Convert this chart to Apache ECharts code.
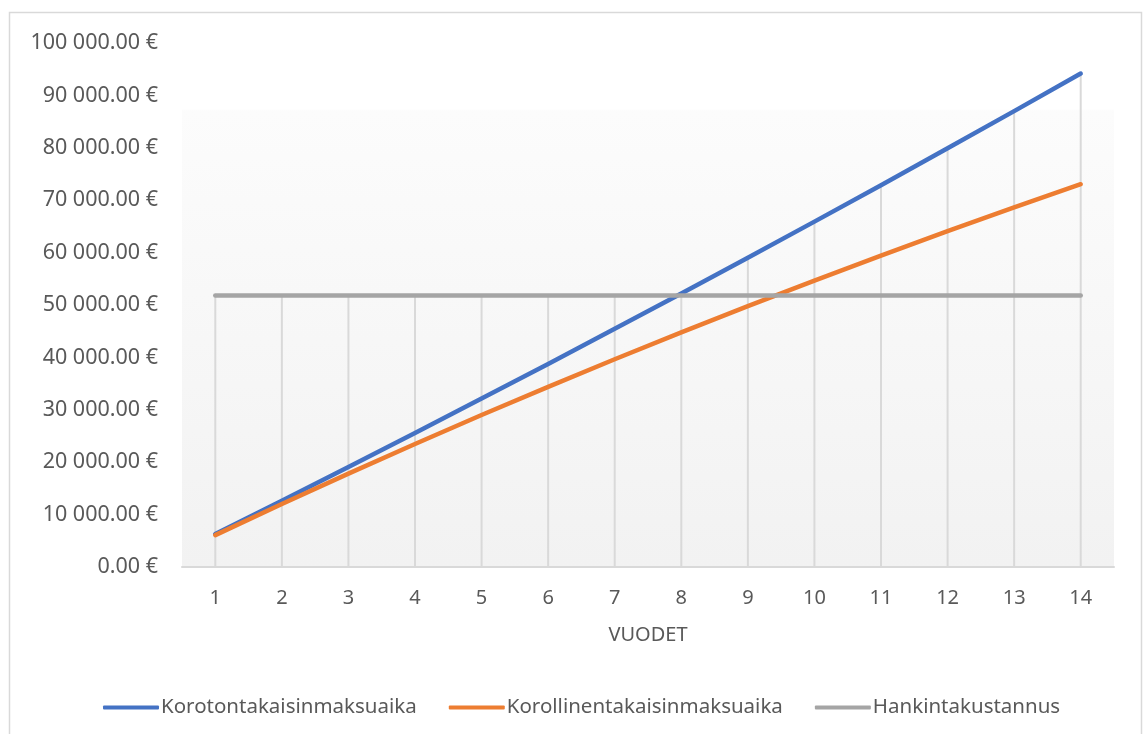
<!DOCTYPE html>
<html>
<head>
<meta charset="utf-8">
<title>Takaisinmaksuaika</title>
<script src="https://cdn.jsdelivr.net/npm/echarts@6/dist/echarts.min.js"></script>
<style>
  html, body { margin: 0; padding: 0; background: #ffffff; }
  #chart { width: 1144px; height: 734px; }
</style>
</head>
<body>
<div id="chart"></div>
<script>
// Years on the x axis
var years = ['1', '2', '3', '4', '5', '6', '7', '8', '9', '10', '11', '12', '13', '14'];

// Cumulative savings, interest-free payback
var korotonValues = [6300, 12663, 19090, 25581, 32137, 38758, 45446, 52200, 59022, 65912, 72871, 79900, 86999, 94169];

// Cumulative savings, with interest
var korollinenValues = [6087, 12027, 17823, 23480, 29000, 34386, 39643, 44772, 49777, 54662, 59429, 64080, 68619, 73049];

// Acquisition cost
var hankintaValues = [51800, 51800, 51800, 51800, 51800, 51800, 51800, 51800, 51800, 51800, 51800, 51800, 51800, 51800];

var seriesNames = ['Korotontakaisinmaksuaika', 'Korollinentakaisinmaksuaika', 'Hankintakustannus'];
var seriesColors = ['#4472C4', '#ED7D31', '#A5A5A5'];

// Drop lines run from the highest series value in each year down to the axis
var dropLineValues = years.map(function (_, i) {
  return Math.max(korotonValues[i], korollinenValues[i], hankintaValues[i]);
});

function euro(v) {
  var parts = v.toFixed(2).split('.');
  var intPart = parts[0].replace(/\B(?=(\d{3})+(?!\d))/g, ' ');
  return intPart + '.' + parts[1] + ' €';
}

var textColor = '#595959';
var fontFamily = '"Noto Sans", "Open Sans", sans-serif';

var chart = echarts.init(document.getElementById('chart'), null, { renderer: 'canvas' });

function lineSeries(name, data, color) {
  return {
    name: name,
    type: 'line',
    data: data,
    symbol: 'none',
    z: 3,
    lineStyle: { color: color, width: 4.5, cap: 'round', join: 'round' },
    itemStyle: { color: color },
    emphasis: { disabled: true }
  };
}

chart.setOption({
  animation: false,
  backgroundColor: '#ffffff',
  textStyle: { fontFamily: fontFamily },
  graphic: [{
    type: 'rect',
    silent: true,
    shape: { x: 9.5, y: 12.5, width: 1132, height: 760 },
    style: { fill: 'none', stroke: '#d9d9d9', lineWidth: 1.5 },
    z: -10
  }],
  grid: {
    left: 182,
    right: 30,
    top: 43,
    bottom: 167,
    show: true,
    borderWidth: 0,
    backgroundColor: {
      type: 'linear', x: 0, y: 0, x2: 0, y2: 1,
      colorStops: [
        { offset: 0, color: '#ffffff' },
        { offset: 0.125, color: '#ffffff' },
        { offset: 0.13, color: '#fcfcfc' },
        { offset: 1, color: '#f2f2f2' }
      ]
    }
  },
  legend: {
    data: seriesNames,
    left: 98,
    top: 692,
    itemWidth: 56,
    itemHeight: 4,
    itemGap: 32,
    icon: 'roundRect',
    textStyle: { color: textColor, fontSize: 20.5, fontFamily: fontFamily, padding: [0, 0, 0, -3] }
  },
  xAxis: {
    type: 'category',
    data: years,
    boundaryGap: true,
    name: 'VUODET',
    nameLocation: 'middle',
    nameGap: 58,
    nameTextStyle: { color: textColor, fontSize: 20, fontFamily: fontFamily },
    axisLine: { show: true, lineStyle: { color: '#d9d9d9', width: 2 } },
    axisTick: { show: false },
    axisLabel: { color: textColor, fontSize: 20, margin: 21, fontFamily: fontFamily },
    splitLine: { show: false }
  },
  yAxis: {
    type: 'value',
    min: 0,
    max: 100000,
    interval: 10000,
    axisLine: { show: false },
    axisTick: { show: false },
    splitLine: { show: false },
    axisLabel: {
      color: textColor,
      fontSize: 21.5,
      margin: 24,
      fontFamily: fontFamily,
      formatter: function (v) { return euro(v); }
    }
  },
  series: [
    {
      name: 'pudotusviivat',
      type: 'bar',
      data: dropLineValues,
      barWidth: 2,
      silent: true,
      z: 1,
      itemStyle: { color: '#d9d9d9' },
      emphasis: { disabled: true }
    },
    lineSeries(seriesNames[0], korotonValues, seriesColors[0]),
    lineSeries(seriesNames[1], korollinenValues, seriesColors[1]),
    lineSeries(seriesNames[2], hankintaValues, seriesColors[2])
  ]
});
</script>
</body>
</html>
